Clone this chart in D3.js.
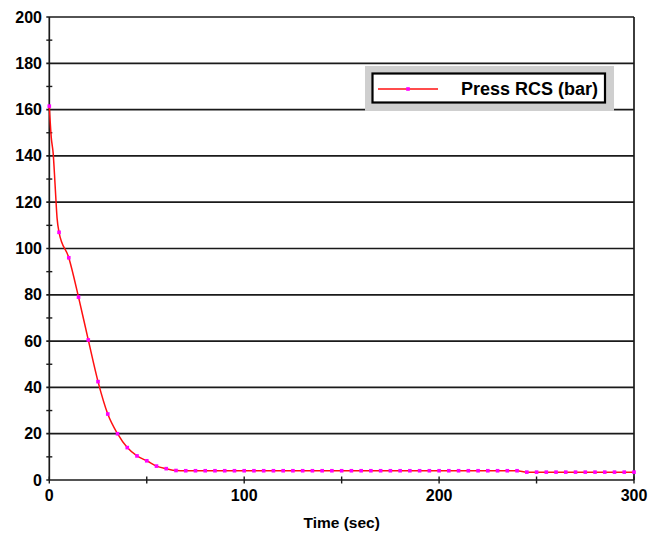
<!DOCTYPE html>
<html>
<head>
<meta charset="utf-8">
<script src="https://cdn.jsdelivr.net/npm/d3@7"></script>
<style>
  body { margin: 0; background: #fff; }
  text { font-family: "Liberation Sans", Arial, sans-serif; font-weight: bold; fill: #000; }
</style>
</head>
<body>
<svg id="chart" width="648" height="533"></svg>
<script>
// RCS pressure sampled every 5 s (marked points)
const sampleTime = [
  0, 5, 10, 15, 20, 25, 30, 35, 40, 45, 50, 55, 60, 65,
  70, 75, 80, 85, 90, 95, 100, 105, 110, 115, 120, 125, 130, 135,
  140, 145, 150, 155, 160, 165, 170, 175, 180, 185, 190, 195, 200,
  205, 210, 215, 220, 225, 230, 235, 240,
  245, 250, 255, 260, 265, 270, 275, 280, 285, 290, 295, 300
];
const pressure = [
  161.5, 107, 96, 79, 60.5, 42.5, 28.5, 20, 14, 10.4, 8.3, 6.0, 4.9, 4.1,
  4.0, 4.0, 4.0, 4.0, 4.0, 4.0, 4.0, 4.0, 4.0, 4.0, 4.0, 4.0, 4.0, 4.0,
  4.0, 4.0, 4.0, 4.0, 4.0, 4.0, 4.0, 4.0, 4.0, 4.0, 4.0, 4.0, 4.0,
  4.0, 4.0, 4.0, 4.0, 4.0, 4.0, 4.0, 4.0,
  3.4, 3.4, 3.4, 3.4, 3.4, 3.4, 3.4, 3.4, 3.4, 3.4, 3.4, 3.4
];
// Early blowdown transient recorded at 1 s (line only)
const transientTime = [1, 2, 3, 4];
const transientPressure = [148, 141, 127, 113];

const yTickValues = [0, 20, 40, 60, 80, 100, 120, 140, 160, 180, 200];
const yMinorTicks = [10, 30, 50, 70, 90, 110, 130, 150, 170, 190];
const xTickValues = [0, 50, 100, 150, 200, 250, 300];
const xTickLabels = [0, 100, 200, 300];
const xTitle = "Time (sec)";
const seriesName = "Press RCS (bar)";

const svg = d3.select("#chart");
const x = d3.scaleLinear().domain([0, 300]).range([49.3, 634]);
const y = d3.scaleLinear().domain([0, 200]).range([480, 17]);

const gridColor = "#1a1a1a";

// horizontal gridlines
svg.append("g").selectAll("line").data(yTickValues).join("line")
  .attr("x1", x(0) - 3).attr("x2", x(300))
  .attr("y1", d => y(d)).attr("y2", d => y(d))
  .attr("stroke", gridColor).attr("stroke-width", 1.7);

// right border
svg.append("line")
  .attr("x1", x(300)).attr("x2", x(300)).attr("y1", y(200)).attr("y2", y(0))
  .attr("stroke", gridColor).attr("stroke-width", 1.7);

// left axis line + minor ticks
svg.append("line")
  .attr("x1", x(0)).attr("x2", x(0)).attr("y1", y(200)).attr("y2", y(0))
  .attr("stroke", gridColor).attr("stroke-width", 1.7);
svg.append("g").selectAll("line").data(yMinorTicks).join("line")
  .attr("x1", x(0) - 3).attr("x2", x(0) + 3)
  .attr("y1", d => y(d)).attr("y2", d => y(d))
  .attr("stroke", gridColor).attr("stroke-width", 1.4);

// bottom axis ticks
svg.append("g").selectAll("line").data(xTickValues).join("line")
  .attr("x1", d => x(d)).attr("x2", d => x(d))
  .attr("y1", y(0) - 3.5).attr("y2", y(0) + 3.5)
  .attr("stroke", gridColor).attr("stroke-width", 1.4);

// y tick labels
svg.append("g").selectAll("text").data(yTickValues).join("text")
  .attr("x", 42).attr("y", d => y(d) + 5.5)
  .attr("text-anchor", "end").attr("font-size", 16)
  .text(d => d);

// x tick labels
svg.append("g").selectAll("text").data(xTickLabels).join("text")
  .attr("x", d => x(d)).attr("y", 501)
  .attr("text-anchor", "middle").attr("font-size", 16)
  .text(d => d);

// x axis title
svg.append("text")
  .attr("x", (x(0) + x(300)) / 2).attr("y", 528)
  .attr("text-anchor", "middle").attr("font-size", 15.5)
  .text(xTitle);

// series
const marked = sampleTime.map((t, i) => ({ t, p: pressure[i] }));
const fine = transientTime.map((t, i) => ({ t, p: transientPressure[i] }));
const linePts = marked.concat(fine).sort((a, b) => a.t - b.t);

const line = d3.line().curve(d3.curveMonotoneX).x(d => x(d.t)).y(d => y(d.p));
svg.append("path").datum(linePts)
  .attr("d", line)
  .attr("fill", "none").attr("stroke", "#ff1010").attr("stroke-width", 1.5)
  .attr("stroke-linejoin", "round");

svg.append("g").selectAll("rect").data(marked).join("rect")
  .attr("x", d => x(d.t) - 1.8).attr("y", d => y(d.p) - 1.8)
  .attr("width", 3.6).attr("height", 3.6)
  .attr("fill", "#ff00ff");

// legend
const lg = svg.append("g");
lg.append("rect").attr("x", 365).attr("y", 66).attr("width", 249).attr("height", 45)
  .attr("fill", "#cfcfcf");
lg.append("rect").attr("x", 372.5).attr("y", 73.5).attr("width", 232.5).attr("height", 29)
  .attr("fill", "#fff").attr("stroke", "#000").attr("stroke-width", 2.2);
lg.append("line").attr("x1", 378).attr("x2", 438).attr("y1", 89).attr("y2", 89)
  .attr("stroke", "#ff1010").attr("stroke-width", 1.5);
lg.append("rect").attr("x", 408 - 1.8).attr("y", 89 - 1.8).attr("width", 3.6).attr("height", 3.6)
  .attr("fill", "#ff00ff");
lg.append("text").attr("x", 461).attr("y", 95).attr("font-size", 18).text(seriesName);
</script>
</body>
</html>
